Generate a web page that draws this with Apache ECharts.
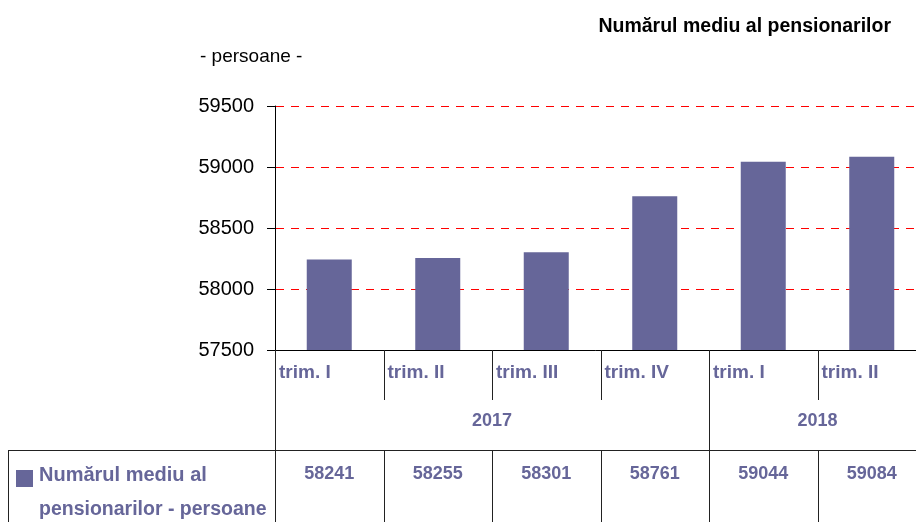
<!DOCTYPE html>
<html>
<head>
<meta charset="utf-8">
<script src="https://cdn.jsdelivr.net/npm/echarts@6/dist/echarts.min.js"></script>
<style>
  html, body { margin: 0; padding: 0; background: #fff; }
  #chart { width: 916px; height: 522px; }
</style>
</head>
<body>
<div id="chart"></div>
<script>
// date: numarul mediu al pensionarilor, pe trimestre
const quarters = ['trim. I', 'trim. II', 'trim. III', 'trim. IV', 'trim. I', 'trim. II']
const pensioners = [58241, 58255, 58301, 58761, 59044, 59084]
const years = ['2017', '2018']
const yearStart = [0, 4]
const yearSpan = [4, 2]
const yTicks = [57500, 58000, 58500, 59000, 59500]

const PURPLE = '#666699'
const FONT = '"Liberation Sans", Arial, sans-serif'
const LINE = '#222'

// linii verticale clare (pixel intreg + 0.5)
function vline(x, y1, y2) {
  const px = Math.round(x) + 0.5
  return { type: 'line', shape: { x1: px, y1: y1, x2: px, y2: y2 }, style: { stroke: LINE, lineWidth: 1 } }
}

function txt(x, y, text, size, align) {
  return {
    type: 'text',
    style: {
      x: x, y: y, text: text,
      font: 'bold ' + size + 'px ' + FONT,
      fill: PURPLE,
      align: align, verticalAlign: 'middle',
      textAlign: align, textVerticalAlign: 'middle',
    },
  }
}

const chart = echarts.init(document.getElementById('chart'))

chart.setOption({
  animation: false,
  // zona graficului continua putin dincolo de marginea dreapta
  grid: { left: 275, top: 106, width: 651, height: 244, containLabel: false, outerBoundsMode: 'none' },
  title: {
    text: 'Numărul mediu al pensionarilor',
    right: 20,
    top: 12,
    textStyle: { fontFamily: FONT, fontSize: 19.5, fontWeight: 'bold', color: '#000' },
  },
  graphic: [
    {
      type: 'text', left: 200, top: 47,
      style: { text: '- persoane -', font: '19px ' + FONT, fill: '#000' },
    },
    // tabelul de jos
    { type: 'line', shape: { x1: 8, y1: 450.5, x2: 916, y2: 450.5 }, style: { stroke: LINE, lineWidth: 1 } },
    { type: 'line', shape: { x1: 8.5, y1: 450, x2: 8.5, y2: 522 }, style: { stroke: LINE, lineWidth: 1 } },
    { type: 'rect', shape: { x: 16, y: 470, width: 17, height: 17 }, style: { fill: PURPLE } },
    {
      type: 'text', left: 39, top: 465,
      style: { text: 'Numărul mediu al', font: 'bold 20px ' + FONT, fill: PURPLE },
    },
    {
      type: 'text', left: 39, top: 500,
      style: { text: 'pensionarilor - persoane', font: 'bold 19.5px ' + FONT, fill: PURPLE },
    },
  ],
  xAxis: {
    type: 'category',
    data: quarters,
    axisLine: { lineStyle: { color: '#000', width: 1 } },
    axisTick: { show: false },
    axisLabel: { show: false },
    splitLine: { show: false },
  },
  yAxis: {
    type: 'value',
    min: 57500,
    max: 59500,
    interval: 500,
    axisLine: { show: true, lineStyle: { color: '#000', width: 1 } },
    axisTick: { show: true, inside: false, length: 8, lineStyle: { color: '#000', width: 1 } },
    axisLabel: {
      margin: 21,
      fontFamily: FONT,
      fontSize: 20,
      color: '#000',
      formatter: (v) => (yTicks.includes(v) ? String(v) : ''),
    },
    splitLine: { show: false },
  },
  series: [
    {
      // liniile orizontale rosii, punctate, aliniate la pixel
      type: 'custom',
      silent: true,
      clip: false,
      z: 1,
      data: yTicks.slice(1).map((v) => [0, v]),
      encode: { x: 0, y: 1 },
      renderItem: (params, api) => {
        const y = Math.round(api.coord([0, api.value(1)])[1]) + 0.5
        const w = api.size([1, 0])[0]
        const x1 = api.coord([0, 0])[0] - w / 2 + 1
        return {
          type: 'line',
          shape: { x1: x1, y1: y, x2: x1 + quarters.length * w, y2: y },
          style: { stroke: '#ff0000', lineWidth: 1, lineDash: [8, 7] },
        }
      },
    },
    {
      name: 'Numărul mediu al pensionarilor - persoane',
      type: 'bar',
      data: pensioners,
      barWidth: 45,
      itemStyle: { color: PURPLE },
      z: 3,
    },
    {
      // etichete trimestre, separatoare si valorile din tabel
      type: 'custom',
      clip: false,
      silent: true,
      data: pensioners.map((v, i) => [i, v]),
      encode: { x: 0, y: 1 },
      renderItem: (params, api) => {
        const i = api.value(0)
        const cx = api.coord([i, 57500])[0]
        const w = api.size([1, 0])[0]
        const x0 = cx - w / 2
        const children = [
          txt(x0 + 4, 373, quarters[i], 19, 'left'),
          txt(cx, 474, String(api.value(1)), 18, 'center'),
          vline(x0, 450, 522),
        ]
        if (i > 0) children.push(vline(x0, 350, 400))
        return { type: 'group', children: children }
      },
      z: 5,
    },
    {
      // anii si liniile lor de separare
      type: 'custom',
      clip: false,
      silent: true,
      data: years.map((y, k) => [yearStart[k], 57500]),
      encode: { x: 0, y: 1 },
      renderItem: (params, api) => {
        const k = params.dataIndex
        const w = api.size([1, 0])[0]
        const xs = api.coord([yearStart[k], 57500])[0] - w / 2
        const xe = xs + yearSpan[k] * w
        return {
          type: 'group',
          children: [
            vline(xs, 350, 522),
            txt((xs + xe) / 2, 421, years[k], 18, 'center'),
          ],
        }
      },
      z: 5,
    },
  ],
})
</script>
</body>
</html>
